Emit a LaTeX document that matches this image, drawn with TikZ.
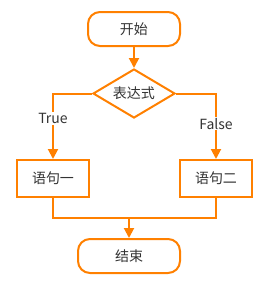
\documentclass[tikz,border=0pt]{standalone}
\usepackage{fontspec}
\setmainfont{Noto Sans CJK SC}
\usetikzlibrary{shapes.geometric,arrows.meta}
\definecolor{flow}{HTML}{FF8000}
\definecolor{txt}{HTML}{333333}
\begin{document}
\begin{tikzpicture}[x=1pt,y=-1pt,
  line width=2pt,
  every node/.style={font=\fontsize{14}{16}\selectfont, text=txt},
  term/.style={draw=flow, fill=white, rounded corners=12pt, minimum width=92pt, minimum height=34pt, inner sep=0pt},
  stepbox/.style={draw=flow, fill=white, minimum width=72pt, minimum height=37pt, inner sep=0pt},
  decide/.style={draw=flow, fill=white, diamond, minimum width=82pt, minimum height=49pt, inner sep=0pt, aspect=1.7},
  conn/.style={draw=flow, line width=2pt},
  arr/.style={conn, -{Triangle[length=10pt,width=10pt]}},
  lbl/.style={fill=white, inner sep=1pt}]
\useasboundingbox (0,0) rectangle (271,290);
\node[term] (start) at (134,29) {开始};
\node[decide] (expr) at (134,93.5) {表达式};
\node[stepbox] (s1) at (53,178.5) {语句一};
\node[stepbox] (s2) at (216,178.5) {语句二};
\node[term, minimum width=102pt] (end) at (129,256) {结束};
\coordinate (merge) at (129,218);
\draw[arr] (start) -- (expr);
\draw[arr] (expr.west) -| node[lbl, pos=0.69] {True} (s1.north);
\draw[arr] (expr.east) -| node[lbl, pos=0.73] {False} (s2.north);
\draw[conn] (s1.south) |- (merge) -| (s2.south);
\draw[arr] (merge) -- (end.north);
\end{tikzpicture}
\end{document}
